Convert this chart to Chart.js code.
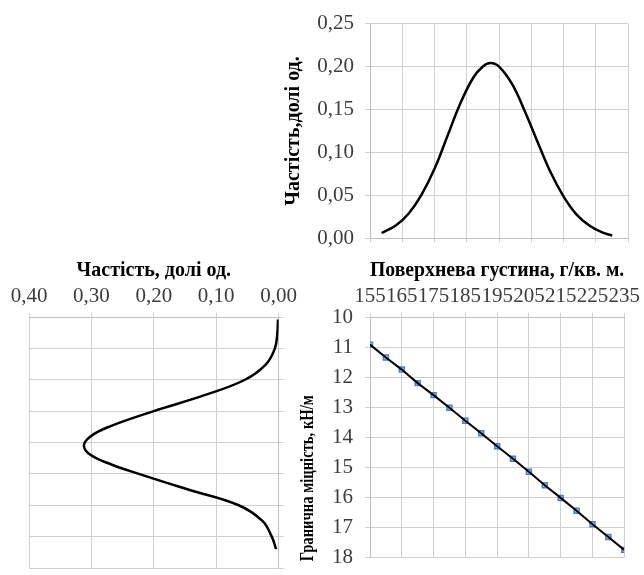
<!DOCTYPE html>
<html>
<head>
<meta charset="utf-8">
<script src="https://cdn.jsdelivr.net/npm/chart.js@4.4.1/dist/chart.umd.min.js"></script>
<style>
html,body{margin:0;padding:0;background:#fff;overflow:hidden;width:644px;height:575px;}
canvas{position:absolute;}
#cA{left:280px;top:0px;width:364px;height:262px;}
#cB{left:0px;top:255px;width:301px;height:327px;}
#cC{left:290px;top:255px;width:354px;height:327px;}
</style>
</head>
<body>
<canvas id="cB" width="301" height="327"></canvas>
<canvas id="cA" width="364" height="262"></canvas>
<canvas id="cC" width="354" height="327"></canvas>
<script>
// ---- data ----
// Top chart: distribution of surface density
const densityA = [158.6, 163, 167, 171, 175, 179, 183, 187, 190, 192.3, 195, 199, 203, 207, 211, 215, 219, 223, 227, 230.1];
const freqA    = [0.0063, 0.015, 0.029, 0.051, 0.081, 0.119, 0.157, 0.187, 0.2, 0.204, 0.2, 0.18, 0.148, 0.112, 0.077, 0.049, 0.028, 0.015, 0.0071, 0.0033];
// Bottom-left chart: distribution of breaking strength
const strengthB = [10.08, 10.5, 11.0, 11.5, 12.0, 12.5, 13.0, 13.5, 13.8, 14.1, 14.4, 14.7, 15.0, 15.5, 16.0, 16.5, 17.0, 17.4];
const freqB     = [0.001, 0.002, 0.006, 0.02, 0.054, 0.12, 0.20, 0.272, 0.301, 0.312, 0.301, 0.268, 0.224, 0.145, 0.064, 0.026, 0.011, 0.004];
// Bottom-right chart: strength vs density
const densityC  = [155, 160, 165, 170, 175, 180, 185, 190, 195, 200, 205, 210, 215, 220, 225, 230, 235];
const strengthC = [10.92, 11.35, 11.75, 12.2, 12.6, 13.02, 13.45, 13.87, 14.3, 14.72, 15.15, 15.6, 16.02, 16.45, 16.9, 17.32, 17.75];
// labels
const titleFreqA = 'Частість,долі од.';
const titleFreqB = 'Частість, долі од.';
const titleDensity = 'Поверхнева густина, г/кв. м.';
const titleStrength = 'Гранична міцність, кН/м';

// ---- styles ----
const FAM = "'Liberation Serif', 'Times New Roman', serif";
const TICK_COLOR = '#3c3c3c';
const GRID = '#d0d0d0';
const tickFont = {family: FAM, size: 21};
const titleFont = {family: FAM, size: 20, weight: 'bold'};
const fmt2 = v => Number(v).toFixed(2).replace('.', ',');
const border = {color: '#bfbfbf', width: 1};
const baseOpts = {
  responsive: false, animation: false, events: [],
  plugins: {legend: {display: false}, tooltip: {enabled: false}}
};

// ---- top chart ----
new Chart(document.getElementById('cA'), {
  type: 'scatter',
  data: {datasets: [{
    data: densityA.map((x, i) => ({x: x, y: freqA[i]})),
    showLine: true, borderColor: '#000', borderWidth: 2.5, pointRadius: 0, tension: 0.4, fill: false
  }]},
  options: Object.assign({}, baseOpts, {
    layout: {padding: {left: 0, right: 16, top: 21, bottom: 0}},
    scales: {
      x: {type: 'linear', min: 155, max: 235,
          ticks: {stepSize: 10, display: false},
          grid: {color: GRID, tickLength: 4, tickColor: GRID},
          border: border,
          afterFit: s => { s.height = 14; }},
      y: {type: 'linear', min: 0, max: 0.25,
          ticks: {stepSize: 0.05, padding: 11, color: TICK_COLOR, font: tickFont, callback: fmt2},
          grid: {color: GRID, tickLength: 5, tickColor: GRID},
          border: border,
          title: {display: true, text: titleFreqA, font: titleFont, color: '#000', padding: {top: 2, bottom: 0}},
          afterFit: s => { s.width = 90; }}
    }
  })
});

// ---- bottom-left chart ----
new Chart(document.getElementById('cB'), {
  type: 'scatter',
  data: {datasets: [{
    data: strengthB.map((y, i) => ({x: freqB[i], y: y})),
    showLine: true, borderColor: '#000', borderWidth: 2.5, pointRadius: 0, tension: 0.4, fill: false
  }]},
  options: Object.assign({}, baseOpts, {
    layout: {padding: {left: 29, right: 11, top: 0, bottom: 14}},
    scales: {
      x: {type: 'linear', position: 'top', reverse: true, min: 0, max: 0.4,
          ticks: {stepSize: 0.1, padding: 4, color: TICK_COLOR, font: tickFont, callback: fmt2, autoSkip: false, maxRotation: 0},
          grid: {color: GRID, tickLength: 4, tickColor: GRID},
          border: border,
          title: {display: true, text: titleFreqB, font: titleFont, color: '#000', padding: {top: 4, bottom: 0}},
          afterFit: s => { s.height = 62; }},
      y: {type: 'linear', position: 'right', reverse: true, min: 10, max: 18,
          ticks: {stepSize: 1, display: false},
          grid: {color: GRID, tickLength: 5, tickColor: GRID},
          border: border,
          afterFit: s => { s.width = 9; }}
    }
  })
});

// ---- bottom-right chart ----
const yTitlePlugin = {
  id: 'yTitleC',
  afterDraw(chart) {
    const {ctx, chartArea, scales} = chart;
    ctx.save();
    ctx.translate(scales.y.left + 18, (chartArea.top + chartArea.bottom) / 2 + 41);
    ctx.rotate(-Math.PI / 2);
    ctx.font = 'bold 19px ' + FAM;
    ctx.fillStyle = '#000';
    ctx.textAlign = 'center';
    ctx.textBaseline = 'middle';
    ctx.fillText(titleStrength, 0, 0, 166);
    ctx.restore();
  }
};
new Chart(document.getElementById('cC'), {
  type: 'scatter',
  data: {datasets: [
    {
      data: densityC.map((x, i) => ({x: x, y: strengthC[i]})),
      showLine: true, borderColor: '#000', borderWidth: 2, pointRadius: 0, tension: 0, fill: false, order: 0
    },
    {
      data: densityC.map((x, i) => ({x: x, y: strengthC[i]})),
      showLine: false, pointStyle: 'rect', pointRadius: 3.5,
      pointBackgroundColor: '#a8c2e4', pointBorderColor: '#4f7fbf', pointBorderWidth: 1.5, order: 1
    }
  ]},
  options: Object.assign({}, baseOpts, {
    layout: {padding: {left: 0, right: 16, top: 0, bottom: 14}},
    scales: {
      x: {type: 'linear', position: 'top', min: 155, max: 235,
          ticks: {stepSize: 10, padding: 4, color: TICK_COLOR, font: tickFont, autoSkip: false, maxRotation: 0, minRotation: 0},
          grid: {color: GRID, tickLength: 4, tickColor: GRID},
          border: border,
          title: {display: true, text: titleDensity, font: titleFont, color: '#000', padding: {top: 4, bottom: 0}},
          afterFit: s => { s.height = 62; }},
      y: {type: 'linear', position: 'left', reverse: true, min: 10, max: 18,
          ticks: {stepSize: 1, padding: 12, color: TICK_COLOR, font: tickFont},
          grid: {color: GRID, tickLength: 5, tickColor: GRID},
          border: border,
          afterFit: s => { s.width = 80; }}
    }
  }),
  plugins: [yTitlePlugin]
});
</script>
</body>
</html>
